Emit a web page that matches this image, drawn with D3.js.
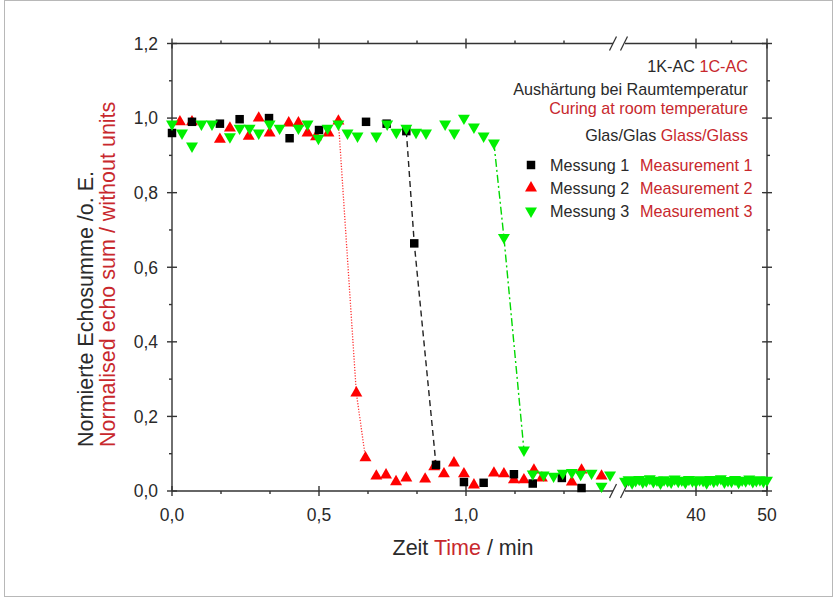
<!DOCTYPE html>
<html>
<head>
<meta charset="utf-8">
<script src="https://cdn.jsdelivr.net/npm/d3@7"></script>
<style>
  html, body { margin: 0; padding: 0; background: #fff; }
  svg { display: block; font-family: "Liberation Sans", Arial, Helvetica, sans-serif; }
</style>
</head>
<body>
<svg id="chart" width="837" height="597"></svg>
<script>
// Messung 1 / Measurement 1 (time in min, normalised echo sum)
const m1Time = [0.0, 0.068, 0.163, 0.23, 0.33, 0.40, 0.50, 0.66, 0.73, 0.797, 0.824, 0.898, 0.993, 1.06, 1.163, 1.227, 1.326, 1.393];
const m1Value = [0.96, 0.99, 0.985, 0.997, 1.0, 0.946, 0.968, 0.99, 0.985, 0.965, 0.664, 0.07, 0.024, 0.022, 0.045, 0.02, 0.035, 0.008];

// Messung 2 / Measurement 2
const m2Time = [0.027, 0.068, 0.163, 0.197, 0.261, 0.295, 0.332, 0.397, 0.43, 0.461, 0.49, 0.532, 0.566, 0.627, 0.658, 0.695, 0.728, 0.762, 0.797, 0.861, 0.892, 0.925, 0.959, 0.993, 1.027, 1.095, 1.129, 1.163, 1.197, 1.231, 1.258, 1.36, 1.393, 1.461];
const m2Value = [0.99, 0.99, 0.943, 0.973, 0.951, 1.0, 0.96, 0.987, 0.987, 0.96, 0.95, 0.96, 0.992, 0.263, 0.089, 0.04, 0.043, 0.025, 0.035, 0.032, 0.065, 0.046, 0.075, 0.046, 0.016, 0.048, 0.046, 0.03, 0.03, 0.056, 0.035, 0.024, 0.056, 0.04];

// Messung 3 / Measurement 3, first minutes
const m3Time = [0.0, 0.034, 0.068, 0.1, 0.136, 0.197, 0.23, 0.264, 0.295, 0.332, 0.366, 0.43, 0.461, 0.498, 0.529, 0.566, 0.597, 0.631, 0.695, 0.732, 0.763, 0.797, 0.83, 0.864, 0.929, 0.96, 0.993, 1.027, 1.06, 1.095, 1.129, 1.197, 1.227, 1.264, 1.298, 1.329, 1.36, 1.39, 1.427, 1.461, 1.49];
const m3Value = [0.984, 0.96, 0.925, 0.984, 0.984, 0.95, 0.973, 0.973, 0.96, 0.984, 0.973, 0.973, 0.984, 0.946, 0.973, 0.984, 0.96, 0.952, 0.952, 0.984, 0.962, 0.973, 0.962, 0.96, 0.984, 0.96, 1.0, 0.976, 0.952, 0.933, 0.68, 0.11, 0.046, 0.043, 0.04, 0.048, 0.05, 0.045, 0.048, 0.013, 0.043];

// Messung 3, long-term values after the axis break
const m3LateTime = [30, 30.5, 31, 31.5, 32, 32.5, 33, 33.5, 34, 34.5, 35, 35.5, 36, 36.5, 37, 37.5, 38, 38.5, 39, 39.5, 40, 40.5, 41, 41.5, 42, 42.5, 43, 43.5, 44, 44.5, 45, 45.5, 46, 46.5, 47, 47.5, 48, 48.5, 49, 49.5, 50];
const m3LateValue = [0.026, 0.03, 0.022, 0.028, 0.031, 0.024, 0.027, 0.033, 0.025, 0.029, 0.021, 0.03, 0.027, 0.024, 0.032, 0.026, 0.029, 0.023, 0.031, 0.027, 0.025, 0.03, 0.028, 0.022, 0.031, 0.026, 0.029, 0.033, 0.024, 0.028, 0.026, 0.031, 0.023, 0.029, 0.027, 0.032, 0.025, 0.028, 0.03, 0.026, 0.029];

// Transition windows (min) joined by a connecting line
const m1Fall = [0.79, 0.9];
const m2Fall = [0.56, 0.66];
const m3Fall = [1.09, 1.2];

// Axis ticks
const yMajor = [0, 0.2, 0.4, 0.6, 0.8, 1.0, 1.2];
const yMinor = [0.1, 0.3, 0.5, 0.7, 0.9, 1.1];
const xMajorL = [0, 0.5, 1.0];
const xMinorL = [1/6, 2/6, 4/6, 5/6, 7/6, 8/6];
const xMajorR = [40, 50];
const xMinorR = [45];
const xLabelsL = ["0,0", "0,5", "1,0"];
const xLabelsR = ["40", "50"];
const yLabels = ["0,0", "0,2", "0,4", "0,6", "0,8", "1,0", "1,2"];

const RED_TEXT = "#c8282d";
const DARK = "#2a2a2a";
const AXIS = "#333";

const svg = d3.select("#chart");

// thin frame at the page edge
svg.append("rect").attr("x", 4.5).attr("y", 0.5).attr("width", 828).attr("height", 596)
  .attr("fill", "none").attr("stroke", "#b8b8b8").attr("stroke-width", 1);

// scales: broken x axis (0–1.5 min | 30–50 min)
const xL = d3.scaleLinear().domain([0, 1.5]).range([172, 613]);
const xR = d3.scaleLinear().domain([30, 50]).range([625, 767]);
const y = d3.scaleLinear().domain([0, 1.2]).range([491, 43.5]);
const yTop = y(1.2), yBot = y(0), xLeft = xL(0), xRight = xR(50);

const ax = svg.append("g").attr("stroke", AXIS).attr("stroke-width", 1.4).attr("fill", "none");

// axis lines
ax.append("line").attr("x1", xLeft).attr("x2", xLeft).attr("y1", yTop).attr("y2", yBot);
ax.append("line").attr("x1", xRight).attr("x2", xRight).attr("y1", yTop).attr("y2", yBot);
[yTop, yBot].forEach(yy => {
  ax.append("line").attr("x1", xLeft).attr("x2", xL(1.5)).attr("y1", yy).attr("y2", yy);
  ax.append("line").attr("x1", xR(30)).attr("x2", xRight).attr("y1", yy).attr("y2", yy);
  // break marks
  [xL(1.5), xR(30) - 1].forEach(bx => {
    ax.append("line").attr("x1", bx - 3.5).attr("x2", bx + 3.5)
      .attr("y1", yy + 7).attr("y2", yy - 7).attr("stroke-width", 1.2);
  });
});

// y ticks (left and right)
yMajor.forEach(v => {
  ax.append("line").attr("x1", xLeft - 5).attr("x2", xLeft + 5).attr("y1", y(v)).attr("y2", y(v));
  ax.append("line").attr("x1", xRight - 5).attr("x2", xRight + 5).attr("y1", y(v)).attr("y2", y(v));
});
yMinor.forEach(v => {
  ax.append("line").attr("x1", xLeft - 3).attr("x2", xLeft).attr("y1", y(v)).attr("y2", y(v));
  ax.append("line").attr("x1", xRight).attr("x2", xRight + 3).attr("y1", y(v)).attr("y2", y(v));
});

// x ticks (bottom and top)
const xMajorPx = xMajorL.map(xL).concat(xMajorR.map(xR));
const xMinorPx = xMinorL.map(xL).concat(xMinorR.map(xR));
xMajorPx.forEach(px => {
  ax.append("line").attr("x1", px).attr("x2", px).attr("y1", yBot - 5).attr("y2", yBot + 5);
  ax.append("line").attr("x1", px).attr("x2", px).attr("y1", yTop - 5).attr("y2", yTop + 5);
});
xMinorPx.forEach(px => {
  ax.append("line").attr("x1", px).attr("x2", px).attr("y1", yBot).attr("y2", yBot + 3);
  ax.append("line").attr("x1", px).attr("x2", px).attr("y1", yTop - 3).attr("y2", yTop);
});

// tick labels
const tl = svg.append("g").attr("fill", DARK).attr("font-size", 17.5);
yMajor.forEach((v, i) => {
  tl.append("text").attr("x", 158).attr("y", y(v)).attr("dy", "0.36em")
    .attr("text-anchor", "end").text(yLabels[i]);
});
xMajorL.forEach((v, i) => {
  tl.append("text").attr("x", xL(v)).attr("y", 521).attr("text-anchor", "middle").text(xLabelsL[i]);
});
xMajorR.forEach((v, i) => {
  tl.append("text").attr("x", xR(v)).attr("y", 521).attr("text-anchor", "middle").text(xLabelsR[i]);
});

// axis titles
const xt = svg.append("text").attr("x", 463).attr("y", 555).attr("text-anchor", "middle")
  .attr("font-size", 21.5).attr("fill", DARK);
xt.append("tspan").text("Zeit ");
xt.append("tspan").attr("fill", RED_TEXT).text("Time");
xt.append("tspan").text(" / min");

svg.append("text").attr("transform", "translate(93,447) rotate(-90)")
  .attr("text-anchor", "start").attr("font-size", 21.5).attr("fill", DARK)
  .text("Normierte Echosumme /o. E.");
svg.append("text").attr("transform", "translate(115,447) rotate(-90)")
  .attr("text-anchor", "start").attr("font-size", 21.5).attr("fill", RED_TEXT)
  .text("Normalised echo sum / without units");

// series
const zip = (t, v) => t.map((d, i) => ({ t: d, v: v[i] }));
const series = [
  { name: "m2", pts: zip(m2Time, m2Value), fall: m2Fall, color: "#ff0000", line: "#ff3030",
    dash: "1.2,1.6", width: 1.3, symbol: d3.symbolTriangle, size: 62, rot: 0 },
  { name: "m1", pts: zip(m1Time, m1Value), fall: m1Fall, color: "#000000", line: "#222",
    dash: "6,4", width: 1.4, symbol: d3.symbolSquare, size: 72, rot: 0 },
  { name: "m3", pts: zip(m3Time, m3Value), fall: m3Fall, color: "#00f000", line: "#00d800",
    dash: "8,3,2,3", width: 1.4, symbol: d3.symbolTriangle, size: 62, rot: 180 }
];

const plot = svg.append("g");
series.forEach(s => {
  const fallPts = s.pts.filter(p => p.t >= s.fall[0] && p.t <= s.fall[1]);
  plot.append("path").datum(fallPts)
    .attr("d", d3.line().x(p => xL(p.t)).y(p => y(p.v)))
    .attr("fill", "none").attr("stroke", s.line).attr("stroke-width", s.width)
    .attr("stroke-dasharray", s.dash);
  const sym = d3.symbol().type(s.symbol).size(s.size);
  plot.append("g").selectAll("path").data(s.pts).join("path")
    .attr("d", sym)
    .attr("transform", p => `translate(${xL(p.t)},${y(p.v)}) rotate(${s.rot})`)
    .attr("fill", s.color);
  if (s.name === "m3") {
    plot.append("g").selectAll("path").data(zip(m3LateTime, m3LateValue)).join("path")
      .attr("d", sym)
      .attr("transform", p => `translate(${xR(p.t)},${y(p.v)}) rotate(180)`)
      .attr("fill", s.color);
  }
});

// legend block
const lg = svg.append("g").attr("font-size", 16.2).attr("fill", DARK);
const rightX = 748;
const l1 = lg.append("text").attr("x", rightX).attr("y", 72).attr("text-anchor", "end");
l1.append("tspan").text("1K-AC ");
l1.append("tspan").attr("fill", RED_TEXT).text("1C-AC");
lg.append("text").attr("x", rightX).attr("y", 95).attr("text-anchor", "end").text("Aushärtung bei Raumtemperatur");
lg.append("text").attr("x", rightX).attr("y", 114).attr("text-anchor", "end").attr("fill", RED_TEXT).text("Curing at room temperature");
const l4 = lg.append("text").attr("x", rightX).attr("y", 141).attr("text-anchor", "end");
l4.append("tspan").text("Glas/Glas ");
l4.append("tspan").attr("fill", RED_TEXT).text("Glass/Glass");

const legendRows = [
  { de: "Messung 1", en: "Measurement 1", s: series[1], yy: 165 },
  { de: "Messung 2", en: "Measurement 2", s: series[0], yy: 188 },
  { de: "Messung 3", en: "Measurement 3", s: series[2], yy: 211 }
];
legendRows.forEach(r => {
  lg.append("path").attr("d", d3.symbol().type(r.s.symbol).size(r.s.size)())
    .attr("transform", `translate(531,${r.yy}) rotate(${r.s.rot})`).attr("fill", r.s.color);
  lg.append("text").attr("x", 550).attr("y", r.yy).attr("dy", "0.36em").text(r.de);
  lg.append("text").attr("x", 640).attr("y", r.yy).attr("dy", "0.36em").attr("fill", RED_TEXT).text(r.en);
});
</script>
</body>
</html>
